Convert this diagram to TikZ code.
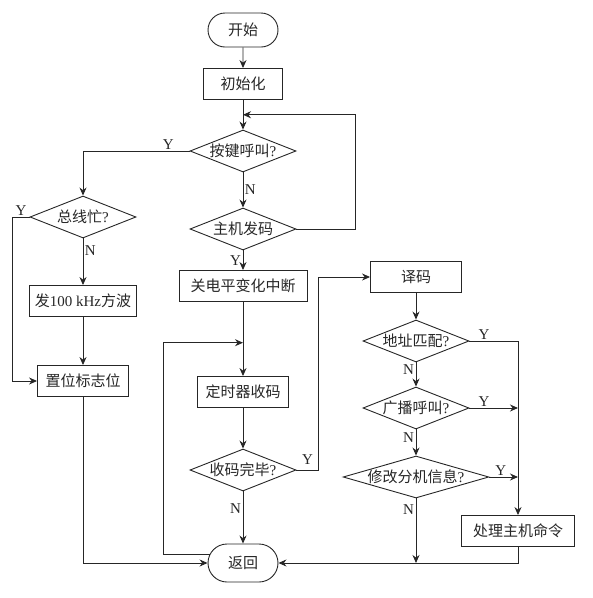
\documentclass[tikz,border=0pt]{standalone}
\usepackage{fontspec}
\setmainfont{Liberation Serif}
\newfontfamily\cjk{Noto Sans CJK SC}
\usetikzlibrary{
    arrows.meta,
    shapes.geometric,
    shapes.misc,
    calc,
    positioning
}
\newcommand\boxfont{\cjk\fontsize{15}{18}\selectfont}
\tikzset{
    terminal/.style={draw, rounded rectangle, minimum width=70pt, minimum height=34pt, inner sep=0pt, font=\boxfont},
    process/.style={draw, rectangle, minimum width=91pt, minimum height=31pt, inner xsep=8pt, inner ysep=0pt, font=\boxfont},
    decision/.style={draw, diamond, aspect=2.5, minimum width=106pt, minimum height=42pt, inner sep=0pt, font=\boxfont},
    flow/.style={-{Stealth[length=8pt, width=7pt]}},
    yn/.style={font=\fontsize{15}{18}\selectfont, inner sep=1.5pt}
}

\begin{document}
\begin{tikzpicture}[x=1pt, y=-1pt, line width=0.9pt, color=black!85]
                        \useasboundingbox (0,0) rectangle (593,598);
                        % main column
                        \node[terminal] (start) at (243,30) {开始};
                        \node[process, minimum width=79pt] (init) at (243,84) {初始化};
                        \node[decision] (key) at (243,151) {按键呼叫{\rmfamily ?}};
                        \node[decision] (host) at (243,229) {主机发码};
                        \node[process, minimum width=128pt] (intr) at (243,286) {关电平变化中断};
                        \node[process] (timer) at (243,392) {定时器收码};
                        \node[decision] (done) at (243,470) {收码完毕{\rmfamily ?}};
                        \node[terminal, minimum height=38pt] (ret) at (243,563) {返回};
                        % left column
                        \node[decision] (busy) at (83,217) {总线忙{\rmfamily ?}};
                        \node[process, minimum width=107pt, inner xsep=4pt] (wave) at (83,301) {发{\rmfamily 100 kHz}方波};
                        \node[process] (flag) at (83,381) {置位标志位};
                        % right column
                        \node[process] (decode) at (416,277) {译码};
                        \node[decision] (addr) at (416,341) {地址匹配{\rmfamily ?}};
                        \node[decision] (bcast) at (416,408) {广播呼叫{\rmfamily ?}};
                        \node[decision, aspect=3.5, minimum width=145pt] (modify) at (416,477) {修改分机信息{\rmfamily ?}};
                        \node[process, minimum width=113pt] (cmd) at (518,531) {处理主机命令};
                        \coordinate (loopin) at ($(init.south)!0.5!(key.north)$);
                        \coordinate (joinT) at ($(intr.south)!0.55!(timer.north)$);

                        \draw[flow] (start) -- (init);
                        \draw[flow] (init) -- (key);
                        \draw[flow] (key) -- node[yn, right]{N} (host);
                        \draw[flow] (host) -- node[yn, left]{Y} (intr);
                        \draw[flow] (host.east) -- ++(59,0) |- (loopin);
                        \draw[flow] (key.west) -| node[yn, above, pos=0.1]{Y} (busy.north);
                        \draw[flow] (busy) -- node[yn, right, pos=0.25]{N} (wave);
                        \draw[flow] (wave) -- (flag);
                        \draw[flow] (busy.west) -- node[yn, above]{Y} ++(-17,0) |- (flag.west);
                        \draw[flow] (flag.south) |- (ret.west);
                        \draw[flow] (intr) -- (timer);
                        \draw[flow] (ret.165) -- ++(-46,0) |- (joinT);
                        \draw[flow] (timer) -- (done);
                        \draw[flow] (done) -- node[yn, left, pos=0.33]{N} (ret);
                        \draw[flow] (done.east) -- node[yn, above, yshift=4pt]{Y} ++(22,0) |- (decode.west);
                        \draw[flow] (decode) -- (addr);
                        \draw[flow] (addr.east) -| node[yn, above, pos=0.15]{Y} (cmd.north);
                        \draw[flow] (addr) -- node[yn, left, pos=0.3]{N} (bcast);
                        \draw[flow] (bcast.east) -- node[yn, above, pos=0.3]{Y} (bcast.east -| cmd.north);
                        \draw[flow] (bcast) -- node[yn, left, pos=0.3]{N} (modify);
                        \draw[flow] (modify.east) -- node[yn, above, pos=0.4]{Y} (modify.east -| cmd.north);
                        \draw[flow] (modify.south) -- node[yn, left, pos=0.18]{N} (modify.south |- ret.east);
                        \draw[flow] (cmd.south) |- (ret.east);
                    \end{tikzpicture}
\end{document}
